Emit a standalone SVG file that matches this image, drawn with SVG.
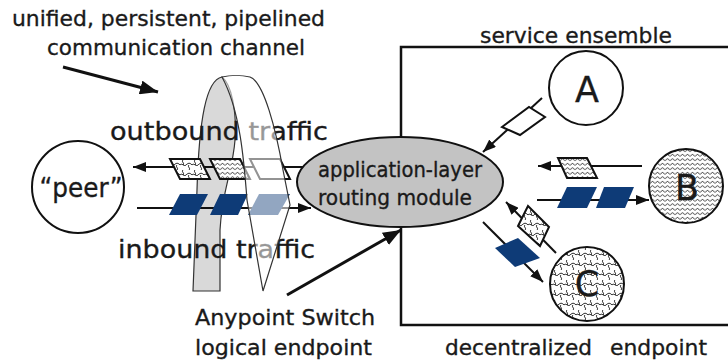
<svg xmlns="http://www.w3.org/2000/svg" width="728" height="364" viewBox="0 0 728 364">
<style>
.t{font-family:"DejaVu Sans","Liberation Sans",sans-serif;fill:#1a1a1a;stroke:#1a1a1a;stroke-width:0.35}
.ln{stroke:#111;stroke-width:2;fill:none}
.thick{stroke:#111;stroke-width:3;fill:none}
.pk{stroke:#111;stroke-width:2;stroke-linejoin:miter}
.blue{fill:#0e3b77}
.node{stroke:#111;stroke-width:2}
</style>
<defs>
<marker id="ah" markerWidth="13" markerHeight="10" refX="13" refY="5" orient="auto" markerUnits="userSpaceOnUse"><path d="M0,0 L13,5 L0,10 Z" fill="#111"/></marker>
<marker id="bh" markerWidth="18" markerHeight="14" refX="18" refY="7" orient="auto" markerUnits="userSpaceOnUse"><path d="M0,0 L18,7 L0,14 Z" fill="#111"/></marker>
<pattern id="wave" width="5" height="4.5" patternUnits="userSpaceOnUse"><rect width="5" height="4.5" fill="#fff"/><path d="M0,3.4 L2.5,1.1 L5,3.4" stroke="#111" stroke-width="0.9" fill="none"/></pattern>
<pattern id="puzzle" width="12" height="10" patternUnits="userSpaceOnUse"><rect width="12" height="10" fill="#fff"/><path d="M0,5 c2,-2.5 4,2 6,0 s4,-2.5 6,0 M3,0 c-2,2 2,3 0,5 M9,5 c-2,2 2,3 0,5" stroke="#111" stroke-width="1" fill="none"/></pattern>
</defs>

<g id="ensemble">
<path d="M728,47 H401 V325 H728" stroke="#111" stroke-width="2.5" fill="none"/>
<text class="t" x="480" y="43" font-size="22" textLength="192" lengthAdjust="spacingAndGlyphs">service ensemble</text>
<text class="t" x="445" y="355" font-size="22"><tspan textLength="147" lengthAdjust="spacingAndGlyphs">decentralized</tspan><tspan x="610" textLength="97" lengthAdjust="spacingAndGlyphs">endpoint</tspan></text>
</g>

<g id="channel-back">
<path d="M193,291 L197,190 C199,120 206,80 222,77 C231,84 237,110 235,140 C233,170 222,190 220,230 L220,291 Z" fill="#d9d9d9" stroke="#333" stroke-width="1.2"/>
</g>

<g id="connectors">
<path class="ln" d="M303,167 L133,167" marker-end="url(#ah)"/>
<path class="ln" d="M137,208 L311,208" marker-end="url(#ah)"/>
<path class="ln" d="M542,98 L483,152" marker-end="url(#ah)"/>
<path class="ln" d="M642,166 L538,166" marker-end="url(#ah)"/>
<path class="ln" d="M537,200 L649,200" marker-end="url(#ah)"/>
<path class="ln" d="M483,222 L543,282" marker-end="url(#ah)"/>
<path class="ln" d="M556,253 L506,202" marker-end="url(#ah)"/>
<path class="thick" d="M63,67 L158,92" marker-end="url(#bh)"/>
<path class="thick" d="M287,295 L401,230" marker-end="url(#bh)"/>
</g>

<g id="packets">
<polygon class="pk" fill="url(#puzzle)" points="170,159 200,159 210,179 180,179"/>
<polygon class="pk" fill="url(#wave)" points="210,159 240,159 250,179 220,179"/>
<polygon class="pk" fill="#fff" points="250,159 280,159 290,179 260,179"/>
<polygon class="blue" points="180,194 208,194 197,215 169,215"/>
<polygon class="blue" points="220,194 248,194 238,215 210,215"/>
<polygon class="blue" points="259,194 290,194 278,215 248,215"/>
<polygon class="pk" fill="#fff" points="502,127 529,107 545,117 520,135"/>
<polygon class="pk" fill="url(#wave)" points="558,158 587,158 597,178 567,178"/>
<polygon class="blue" points="567,187 597,187 587,208 557,208"/>
<polygon class="blue" points="604,187 634,187 625,208 596,208"/>
<polygon class="blue" points="495,248 518,238 540,258 515,267"/>
<polygon class="pk" fill="url(#puzzle)" points="528,206 549,227 540,246 518,226"/>
</g>

<g id="traffic-labels">
<text class="t" x="110" y="140" font-size="25" textLength="218" lengthAdjust="spacingAndGlyphs">outbound traffic</text>
<text class="t" x="118" y="258" font-size="25" textLength="197" lengthAdjust="spacingAndGlyphs">inbound traffic</text>
</g>

<g id="channel-front">
<path d="M222,77 C230,75 242,75 250,77 C264,82 276,130 283,170 L290,205 L263,291 L247,200 C244,160 240,110 222,77 Z" fill="#fff" fill-opacity="0.55" stroke="#333" stroke-width="1.2"/>
<text class="t" x="12" y="26" font-size="22" textLength="313" lengthAdjust="spacingAndGlyphs">unified, persistent, pipelined</text>
<text class="t" x="47" y="55" font-size="22" textLength="258" lengthAdjust="spacingAndGlyphs">communication channel</text>
</g>

<g id="peer">
<circle class="node" cx="78" cy="187" r="46" fill="#fff"/>
<text class="t" x="81" y="197" font-size="26" text-anchor="middle" textLength="83" lengthAdjust="spacingAndGlyphs">“peer”</text>
</g>

<g id="routing">
<ellipse class="node" cx="400" cy="182" rx="103" ry="45" fill="#c3c3c3"/>
<text class="t" x="318" y="177" font-size="21" textLength="164" lengthAdjust="spacingAndGlyphs">application-layer</text>
<text class="t" x="318" y="205" font-size="21" textLength="154" lengthAdjust="spacingAndGlyphs">routing module</text>
</g>

<g id="A">
<circle class="node" cx="586" cy="88" r="37" fill="#fff"/>
<text class="t" x="587" y="102" font-size="35" text-anchor="middle">A</text>
</g>
<g id="B">
<circle class="node" cx="686" cy="186" r="37" fill="url(#wave)"/>
<text class="t" x="687" y="200" font-size="35" text-anchor="middle">B</text>
</g>
<g id="C">
<circle class="node" cx="587" cy="284" r="37" fill="url(#puzzle)"/>
<text class="t" x="587" y="296" font-size="35" text-anchor="middle">C</text>
</g>

<g id="anypoint-label">
<text class="t" x="195" y="325" font-size="22" textLength="180" lengthAdjust="spacingAndGlyphs">Anypoint Switch</text>
<text class="t" x="195" y="355" font-size="22" textLength="177" lengthAdjust="spacingAndGlyphs">logical endpoint</text>
</g>
</svg>
